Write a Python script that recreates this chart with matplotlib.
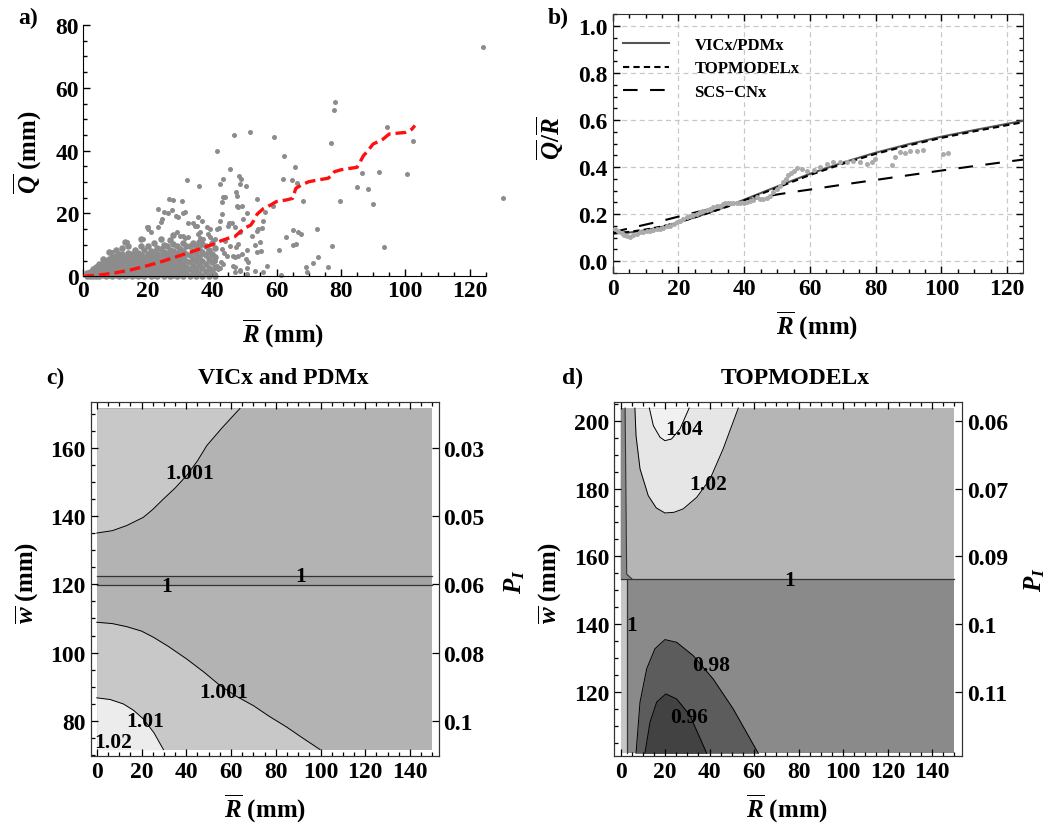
import numpy as np
import matplotlib
matplotlib.use("Agg")
import matplotlib.pyplot as plt
from matplotlib.ticker import MultipleLocator, FixedLocator

plt.rcParams['font.family'] = 'Liberation Serif'
plt.rcParams['font.weight'] = 'bold'
plt.rcParams['mathtext.fontset'] = 'custom'
plt.rcParams['mathtext.rm'] = 'Liberation Serif:bold'
plt.rcParams['mathtext.it'] = 'Liberation Serif:italic:bold'
plt.rcParams['mathtext.bf'] = 'Liberation Serif:bold'

# ---- a) event data: R vs Q (mm) ----
# dense cloud near the origin, read column by column: (R, [Q values])
dense_cols = [
    (1, [0, 0.5, 1]), (2, [0, 0.5, 1, 1.5]), (3, [0, 0.7, 1.4, 2.2]),
    (4, [0, 1, 2, 3]), (5, [0, 1, 2, 3, 4]), (6, [0.3, 1.2, 2.2, 3.2, 4.3, 5.5]),
    (7, [0, 1, 2, 3, 4, 5]), (8, [0.5, 1.5, 2.5, 3.5, 4.5, 5.6, 7.6]),
    (9, [0, 1, 2, 3, 4, 5, 6]), (10, [0.4, 1.4, 2.4, 3.4, 4.4, 5.4, 6.5, 8.4]),
    (11, [0, 1, 2, 3, 4, 5.2, 6.2, 7.2]), (12, [0.5, 1.5, 2.5, 3.5, 4.6, 5.8, 7, 9]),
    (13, [0, 1, 2.1, 3.1, 4, 5, 6.3, 10.8]), (14, [0.5, 1.5, 2.6, 3.6, 4.5, 6, 7.5, 9.5]),
    (15, [0, 1, 2, 3, 4.2, 5.5, 7]), (16, [0.5, 1.6, 2.7, 3.8, 5, 6.5, 8.4]),
    (17, [0, 1.1, 2.2, 3.3, 4.4, 5.8, 7.5]), (18, [0.5, 1.7, 2.9, 4, 5.2, 6.8, 9.5, 12]),
    (19, [0, 1.2, 2.4, 3.6, 4.8, 6.2, 8.5]), (20, [0.6, 1.8, 3, 4.2, 5.5, 7.2, 9.8]),
    (21, [0, 1.3, 2.5, 3.8, 5, 6.5, 8.2]), (22, [0.5, 1.8, 3.1, 4.5, 6, 7.8, 10.5]),
    (23, [0, 1.2, 2.6, 4, 5.5, 7, 9]), (24, [0.6, 2, 3.5, 5, 6.8, 8.6, 12]),
    (25, [0, 1.4, 2.8, 4.4, 6, 7.6, 10]), (26, [0.8, 2.2, 3.8, 5.5, 7.2, 9.5]),
    (27, [0, 1.6, 3.2, 5, 6.5, 8.5, 11.5]), (28, [0.5, 2.4, 4.2, 6, 8, 10.2, 13]),
    (29, [0, 1.8, 3.6, 5.5, 7.4, 9.5]), (30, [0.8, 2.6, 4.5, 6.5, 8.8]),
    (31, [0, 2, 4, 6, 8, 10.5]), (32, [1, 3, 5, 7.2, 9.5]),
    (33, [0, 2.2, 4.4, 6.8, 9.8]), (34, [1.2, 3.4, 5.6, 8, 10.5]),
    (35, [0, 2.4, 4.8, 7.2, 9.6]), (36, [1, 3.6, 6.2, 8.8, 11]),
    (37, [0, 2.5, 5, 7.8, 10.2]), (38, [1.5, 4, 6.8, 9.5]),
    (39, [0, 2.8, 5.6, 8.4]), (40, [1.6, 4.4, 7.2, 10.5]), (41, [0, 3, 6, 9]),
]
sparse_pts = [
    (124.0, 72.9), (130.2, 24.8), (78.2, 55.6), (78.0, 52.9), (76.9, 42.4), (94.2, 47.6),
    (102.5, 43.2), (100.6, 32.6), (91.8, 33.3), (86.4, 32.9), (85.1, 28.3), (88.5, 27.8),
    (90.1, 23.0), (79.7, 24.1), (93.4, 9.3), (77.1, 9.5), (75.9, 2.9), (73.0, 6.3),
    (71.4, 4.2), (72.5, 15.1), (69.1, 3.1), (69.6, 1.3), (68.3, 23.9), (65.7, 34.7),
    (62.4, 38.2), (62.1, 31.0), (64.8, 30.5), (66.3, 29.7), (65.2, 14.7), (66.8, 14.0),
    (67.6, 13.5), (65.2, 10.0), (66.0, 10.3), (62.8, 12.6), (60.9, 8.5), (61.3, 0.4),
    (59.2, 44.5), (59.0, 22.3), (57.2, 3.4), (55.9, 1.3), (53.3, 1.8), (51.8, 46.0),
    (46.9, 45.1), (41.6, 40.0), (45.5, 34.0), (48.4, 31.8), (48.9, 31.0), (50.5, 28.9),
    (47.4, 26.7), (53.8, 24.6), (56.4, 20.4), (50.7, 20.2), (49.4, 22.3), (47.8, 22.3),
    (49.5, 18.2), (55.9, 17.5), (54.3, 15.1), (55.4, 15.3), (53.8, 14.3), (52.3, 12.7),
    (54.9, 10.8), (53.3, 10.0), (55.1, 8.2), (53.8, 7.6), (50.7, 8.5), (50.5, 5.5),
    (51.2, 4.5), (50.7, 2.5), (50.7, 0.7), (48.7, 2.1), (46.6, 3.4), (47.1, 1.3),
    (47.4, 9.2), (48.1, 6.6), (46.4, 6.4), (43.7, 7.4), (42.7, 4.5), (41.6, 3.4),
    (42.4, 2.5), (40.9, 0.7), (42.4, 29.4), (43.3, 31.0), (43.3, 25.1), (43.0, 23.6),
    (43.0, 19.8), (41.4, 15.1), (42.2, 15.3), (45.3, 17.0), (44.9, 16.1), (47.8, 25.7),
    (32.3, 30.5), (35.9, 28.6), (31.1, 20.1), (26.7, 24.6), (28.0, 24.3), (30.5, 24.1),
    (25.1, 20.4), (27.6, 21.2), (28.8, 19.1), (24.1, 17.2), (23.3, 15.6), (19.7, 15.6),
    (20.2, 14.9), (18.6, 11.9), (20.9, 14.2), (30.0, 12.9), (31.6, 12.1), (34.0, 17.0),
    (35.2, 16.1), (35.7, 18.8), (36.2, 14.0), (37.3, 11.9), (36.2, 12.1), (38.8, 13.5),
    (40.4, 11.4), (39.5, 15.1), (48.7, 29.4), (44.0, 25.2), (23.3, 21.4), (31.6, 20.4),
    (48.1, 22.2), (26.2, 20.1), (29.5, 19.0), (36.8, 17.7), (24.3, 18.2), (32.6, 16.9),
    (34.7, 16.1), (38.3, 15.6), (42.5, 17.5), (46.1, 16.9), (47.1, 15.6), (29.0, 14.0),
    (31.1, 12.9), (32.6, 12.4), (35.7, 13.5), (39.3, 12.4), (40.9, 11.9), (44.0, 11.3),
    (48.7, 14.0), (48.1, 10.3), (45.6, 9.7), (43.0, 8.7), (38.8, 7.6), (36.8, 7.1),
    (44.5, 6.6), (47.1, 6.0), (49.2, 7.1), (40.9, 4.8), (43.5, 3.9), (47.1, 3.1),
    (41.9, 2.3), (37.8, 1.8), (48.7, 1.6), (34.7, 0.7), (8.8, 7.6), (13.5, 10.8),
    (20.2, 15.6),
]
mean_r = [0, 5, 10, 15, 20, 25, 30, 35, 40, 43, 45, 47, 48, 50, 52, 53, 54, 56, 58, 60,
          63, 65, 66, 68, 70, 73, 76, 77, 78, 80, 85, 86, 87, 88, 90, 93, 95, 98, 100, 102, 103]
mean_q = [0, 0.4, 1.1, 2.1, 3.4, 4.9, 6.6, 8.3, 10.1, 11.4, 12.1, 12.6, 13.5, 15.3, 16.3, 17.8,
          19.8, 21.6, 22.6, 23.8, 24.3, 24.8, 28.0, 29.2, 30.1, 30.7, 31.2, 32.0, 33.3, 33.9,
          34.7, 36.5, 38.4, 39.5, 42.1, 43.6, 45.3, 45.6, 45.8, 46.8, 48.0]

# ---- b) runoff ratio ----
obs_b_r = [0.7, 1.7, 2.7, 3.5, 4.3, 5.3, 6.3, 7.3, 8.3, 9.3, 10.3, 11.3, 12.4, 13.4, 14.4, 15.4,
           16.4, 17.5, 18.5, 19.5, 20.5, 21.5, 22.5, 23.5, 24.5, 25.5, 26.6, 27.6, 28.6, 29.6,
           30.6, 31.6, 32.7, 33.5, 34.2, 35.0, 35.7, 36.7, 37.7, 38.7, 39.8, 40.8, 41.8, 42.8,
           43.8, 44.8, 45.8, 46.9, 47.9, 48.9, 49.9, 50.9, 51.9, 52.6, 53.4, 54.2, 55.0, 56.0,
           57.5, 59.0, 61.1, 63.1, 65.1, 67.1, 69.2, 71.2, 73.2, 75.3, 77.3, 78.8, 79.8, 84.9,
           85.9, 87.4, 88.9, 90.5, 92.5, 94.5, 100.6, 102.1]
obs_b_q = [0.138, 0.128, 0.119, 0.112, 0.106, 0.104, 0.112, 0.118, 0.123, 0.126, 0.128, 0.130,
           0.133, 0.136, 0.138, 0.143, 0.148, 0.152, 0.157, 0.165, 0.173, 0.180, 0.187, 0.192,
           0.197, 0.203, 0.209, 0.214, 0.218, 0.224, 0.230, 0.234, 0.237, 0.242, 0.247, 0.248,
           0.248, 0.249, 0.248, 0.247, 0.248, 0.251, 0.255, 0.262, 0.272, 0.265, 0.266, 0.268,
           0.279, 0.293, 0.308, 0.322, 0.336, 0.350, 0.365, 0.376, 0.386, 0.396, 0.393, 0.386,
           0.390, 0.403, 0.414, 0.421, 0.424, 0.424, 0.428, 0.421, 0.414, 0.424, 0.435, 0.410,
           0.443, 0.464, 0.461, 0.467, 0.467, 0.475, 0.457, 0.460]
model_r = [0, 5, 10, 15, 20, 25, 30, 35, 40, 45, 50, 55, 60, 70, 80, 90, 100, 110, 125]
vic_q = [0.118, 0.122, 0.132, 0.146, 0.165, 0.187, 0.210, 0.235, 0.262, 0.290, 0.318, 0.345,
         0.372, 0.420, 0.462, 0.498, 0.530, 0.558, 0.598]
top_q = [0.118, 0.125, 0.135, 0.148, 0.166, 0.187, 0.209, 0.233, 0.259, 0.286, 0.313, 0.340,
         0.367, 0.415, 0.457, 0.493, 0.525, 0.553, 0.592]
scs_q = [0.123, 0.140, 0.156, 0.172, 0.190, 0.207, 0.224, 0.241, 0.257, 0.271, 0.284, 0.295,
         0.305, 0.326, 0.346, 0.366, 0.386, 0.405, 0.433]

# ---- c) VICx and PDMx contour lines (R, w) ----
c_up_r = [0, 7, 13.4, 20.8, 25, 29.8, 35, 40.2, 45, 49.2, 56, 64]
c_up_w = [135.1, 135.8, 137.3, 139.7, 142.0, 145.1, 148.3, 152.0, 156.3, 160.8, 166.0, 171.7]
c_lo_r = [0, 7, 13.4, 20, 25.3, 32, 40.2, 48, 55.1, 62, 70, 77, 84.9, 92, 99.8]
c_lo_w = [108.9, 108.5, 107.6, 106.3, 104.5, 101.8, 98.1, 94.2, 90.3, 87.3, 84.4, 81.3, 78.1, 74.9, 71.5]
c_101_r = [0, 6, 11.9, 16.5, 20.8, 25.5, 29.8]
c_101_w = [86.7, 86.2, 84.9, 83.0, 80.5, 76.5, 71.5]
c_band = [119.8, 122.4]
c_labels = [(41.3, 152.7, '1.001'), (31.3, 119.4, '1'), (90.9, 122.6, '1'),
            (56.6, 88.3, '1.001'), (21.6, 80.0, '1.01'), (7.1, 73.8, '1.02')]
c_right_w = [80, 100, 120, 140, 160]
c_right_lab = ['0.1', '0.08', '0.06', '0.05', '0.03']

# ---- d) TOPMODELx contour lines (R, w) ----
d_one_w = 153.4
d_102_r = [6.4, 6.9, 8.7, 12.4, 16, 19.9, 24, 28.1, 34.2, 40.2, 46.1, 52.9]
d_102_w = [203.7, 195.6, 185.8, 177.9, 174.3, 172.8, 173.0, 174.0, 177.4, 182.8, 191.7, 203.7]
d_104_r = [12.9, 14.7, 17.7, 19.9, 22.9, 26.7, 30.8]
d_104_w = [203.7, 198.5, 195.1, 194.1, 194.6, 197.6, 203.7]
d_098_r = [6.9, 8.7, 11.7, 15.4, 19.9, 25.2, 32.6, 41.6, 50.6, 61.9]
d_098_w = [102.0, 117.1, 126.9, 132.8, 135.5, 134.7, 130.8, 123.9, 115.1, 102.0]
d_096_r = [10.9, 13.2, 16.2, 20.3, 25.2, 31.2, 38.7]
d_096_w = [102.0, 111.2, 117.1, 119.5, 118.0, 113.1, 102.0]
d_labels = [(28.5, 197.6, '1.04'), (39.4, 181.4, '1.02'), (75.8, 153.2, '1'),
            (4.9, 139.8, '1'), (40.9, 128.0, '0.98'), (30.8, 112.8, '0.96')]
d_right_w = [120, 140, 160, 180, 200]
d_right_lab = ['0.11', '0.1', '0.09', '0.07', '0.06']

W, H = 1062, 829
fig = plt.figure(figsize=(W / 100, H / 100), dpi=100)


def box(l, t, r, b):
    return [l / W, 1 - b / H, (r - l) / W, (b - t) / H]


def ftext(x, y, s, **kw):
    fig.text(x / W, 1 - y / H, s, ha='center', va='center', **kw)


FS = 17      # tick labels, titles
LFS = 18     # axis labels
CFS = 15.5   # contour labels
EDGE = '#333333'

# ================= a =================
ax = fig.add_axes(box(83.3, 26, 83.3 + 131 * 3.22, 277.3))
dense_r = [r for r, qs in dense_cols for q in qs]
dense_q = [q for r, qs in dense_cols for q in qs]
ax.scatter(dense_r, dense_q, s=22, c='#8c8c8c', linewidths=0, clip_on=False, zorder=2)
ax.scatter([p[0] for p in sparse_pts], [p[1] for p in sparse_pts], s=13, c='#8c8c8c',
           linewidths=0, clip_on=False, zorder=2)
ax.plot(mean_r, mean_q, color='#ff1010', lw=2.4, dashes=(3.2, 1.5), zorder=3)
ax.set_xlim(0, 131)
ax.set_ylim(0, 80)
for s in ['top', 'right']:
    ax.spines[s].set_visible(False)
ax.spines['bottom'].set_bounds(0, 125)
ax.set_xticks(np.arange(0, 121, 20))
ax.xaxis.set_minor_locator(FixedLocator(np.arange(0, 126, 5)))
ax.set_yticks(np.arange(0, 81, 20))
ax.yaxis.set_minor_locator(MultipleLocator(5))
ax.tick_params(which='both', direction='in', labelsize=FS, width=1, pad=3)
ax.tick_params(which='major', length=5)
ax.tick_params(which='minor', length=3)
ftext(28, 18, 'a)', fontsize=FS)
ftext(28, 152, r'$\overline{Q}$ (mm)', fontsize=LFS, rotation=90)
ftext(283, 334, r'$\overline{R}$ (mm)', fontsize=LFS)

# ================= b =================
ax = fig.add_axes(box(612.7, 15, 1022.7, 274))
ax.set_xlim(0, 124.7)
ax.set_ylim(-0.05, 1.052)
ax.grid(True, color='#c8c8c8', lw=0.9, ls=(0, (4, 3)))
ax.plot(model_r, vic_q, color='#555555', lw=1.5, label='VICx/PDMx', zorder=3)
ax.plot(model_r, top_q, color='k', lw=1.5, dashes=(3, 2), label='TOPMODELx', zorder=3)
ax.plot(model_r, scs_q, color='k', lw=1.5, dashes=(7, 6), label=u'SCS\u2212CNx', zorder=3)
ax.scatter(obs_b_r, obs_b_q, s=13, c='#ababab', linewidths=0, zorder=4)
ax.set_xticks(np.arange(0, 121, 20))
ax.xaxis.set_minor_locator(MultipleLocator(5))
ax.set_yticks(np.arange(0, 1.01, 0.2))
ax.set_yticklabels(['%.1f' % v for v in np.arange(0, 1.01, 0.2)])
ax.yaxis.set_minor_locator(MultipleLocator(0.05))
ax.tick_params(which='both', direction='in', labelsize=FS, width=1, top=True, right=True)
ax.tick_params(which='major', length=5)
ax.tick_params(which='minor', length=3)
for s in ax.spines.values():
    s.set_color(EDGE)
ax.legend(loc='upper left', frameon=False, fontsize=12, handlelength=2.8,
          handletextpad=1.5, labelspacing=0.45, borderaxespad=0.2,
          bbox_to_anchor=(0.0, 0.95))
ftext(558, 18, 'b)', fontsize=FS)
ftext(550, 138, r'$\overline{Q}/\overline{R}$', fontsize=LFS, rotation=90)
ftext(817, 326, r'$\overline{R}$ (mm)', fontsize=LFS)


def frame_axes(a, xlim, ylim, right_w, right_lab):
    a.set_xlim(*xlim)
    a.set_ylim(*ylim)
    a.set_xticks(np.arange(0, 141, 20))
    a.xaxis.set_minor_locator(FixedLocator(np.arange(0, 151, 5)))
    a.yaxis.set_major_locator(MultipleLocator(20))
    a.yaxis.set_minor_locator(MultipleLocator(5))
    a.tick_params(which='both', direction='in', labelsize=FS, width=0.9, top=True)
    a.tick_params(which='major', length=5)
    a.tick_params(which='minor', length=3)
    for s in a.spines.values():
        s.set_color(EDGE)
    ar = a.twinx()
    ar.set_ylim(*ylim)
    ar.set_yticks(right_w)
    ar.set_yticklabels(right_lab)
    ar.tick_params(direction='in', labelsize=FS, length=5, width=0.9)
    for s in ar.spines.values():
        s.set_color(EDGE)
    return ar


# ================= c =================
ax = fig.add_axes(box(90.7, 403.3, 438.7, 756.7))
c_x0, c_x1, c_y0, c_y1 = 0, 150, 71.5, 171.7
ax.fill_between([c_x0, c_x1], c_y0, c_y1, color='#b3b3b3', lw=0)
ax.fill_between(c_up_r, c_up_w, c_y1, color='#c8c8c8', lw=0)
ax.fill_between(c_lo_r, c_y0, c_lo_w, color='#c8c8c8', lw=0)
ax.fill_between(c_101_r, c_y0, c_101_w, color='#ececec', lw=0)
ax.fill_between([c_x0, c_x1], c_band[0], c_band[1], color='#a3a3a3', lw=0)
for rr, ww in [(c_up_r, c_up_w), (c_lo_r, c_lo_w), (c_101_r, c_101_w)]:
    ax.plot(rr, ww, color='k', lw=0.7)
for w in c_band:
    ax.plot([c_x0, c_x1], [w, w], color='#333333', lw=0.9)
for x, y, s in c_labels:
    ax.text(x, y, s, ha='center', va='center', fontsize=CFS)
frame_axes(ax, (-2.7, 152.8), (69.7, 173.5), c_right_w, c_right_lab)
ftext(55, 378, 'c)', fontsize=FS)
ftext(283, 378, 'VICx and PDMx', fontsize=FS)
ftext(27, 583, r'$\overline{w}$ (mm)', fontsize=LFS, rotation=90)
ftext(515, 582, r'$P_I$', fontsize=LFS, rotation=90)
ftext(265, 809, r'$\overline{R}$ (mm)', fontsize=LFS)

# ================= d =================
ax = fig.add_axes(box(614, 403.3, 962, 756.7))
d_x0, d_x1, d_y0, d_y1 = 0, 150, 102.0, 203.7
ax.fill_between([d_x0, d_x1], d_one_w, d_y1, color='#b5b5b5', lw=0)
ax.fill_between([d_x0, d_x1], d_y0, d_one_w, color='#8a8a8a', lw=0)
ax.fill_between([d_x0, 2.7], d_y0, d_one_w, color='#c6c6c6', lw=0)
ax.fill([d_x0, 2.0, 2.7, 5.0, d_x0], [d_y1, d_y1, 154.8, d_one_w, d_one_w], color='#8a8a8a', lw=0)
ax.fill_between(d_102_r, d_102_w, d_y1, color='#e6e6e6', lw=0)
ax.fill_between(d_104_r, d_104_w, d_y1, color='#f1f1f1', lw=0)
ax.fill_between(d_098_r, d_y0, d_098_w, color='#5c5c5c', lw=0)
ax.fill_between(d_096_r, d_y0, d_096_w, color='#424242', lw=0)
for rr, ww in [(d_102_r, d_102_w), (d_104_r, d_104_w), (d_098_r, d_098_w), (d_096_r, d_096_w)]:
    ax.plot(rr, ww, color='k', lw=0.7)
ax.plot([d_x0, d_x1], [d_one_w, d_one_w], color='#333333', lw=0.9)
ax.plot([2.7, 2.7], [d_y0, d_one_w], color='#333333', lw=0.9)
ax.plot([2.0, 2.7, 5.0], [d_y1, 154.8, d_one_w], color='#333333', lw=0.8)
for x, y, s in d_labels:
    ax.text(x, y, s, ha='center', va='center', fontsize=CFS)
frame_axes(ax, (-3.0, 153.5), (101.3, 205.4), d_right_w, d_right_lab)
ftext(573, 378, 'd)', fontsize=FS)
ftext(795, 378, 'TOPMODELx', fontsize=FS)
ftext(550, 583, r'$\overline{w}$ (mm)', fontsize=LFS, rotation=90)
ftext(1035, 580, r'$P_I$', fontsize=LFS, rotation=90)
ftext(787, 809, r'$\overline{R}$ (mm)', fontsize=LFS)

fig.savefig('out.png', dpi=100)
